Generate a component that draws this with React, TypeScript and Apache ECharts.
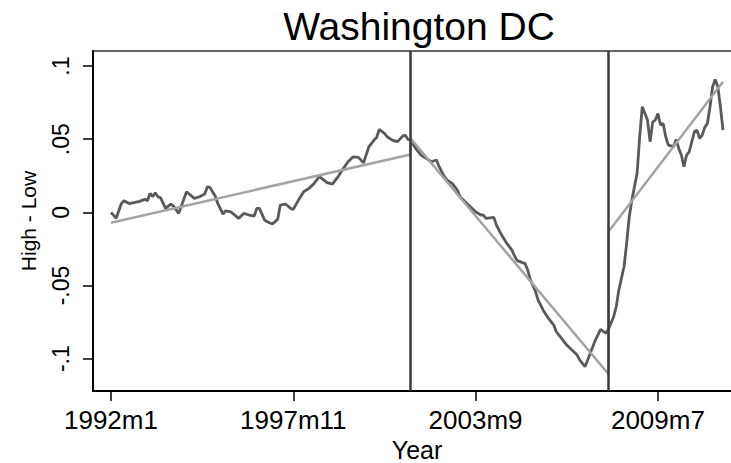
import React, { useEffect, useRef } from "react";
import * as echarts from "echarts";

// Month index: 0 = 1992m1
const actualMonths = [
  0, 2, 4, 5, 7, 11, 13, 14, 15, 16, 17, 18, 19, 21, 23, 24, 26, 29, 32, 34, 36, 37, 38, 40, 41, 43, 44, 46, 49, 51, 53, 55, 56, 57, 59, 60, 62, 64, 65, 67, 69, 70, 72, 74, 76, 78, 80, 83, 85, 87, 89, 91, 93, 95, 97, 99, 101, 102, 103, 105, 106, 108, 110, 112, 113, 114, 115,
  117, 119, 121, 123, 125, 126, 128, 129, 131, 133, 134, 136, 138, 140, 142, 143, 144, 147, 148, 150, 152, 154, 155, 156, 159, 160, 161, 163, 164, 166, 168, 170, 171, 173, 175, 177, 179, 180, 182, 184, 186, 188, 190, 191,
  193, 194, 195, 197, 198, 199, 200, 202, 203, 204, 206, 207, 208, 209, 210, 211, 212, 213, 214, 216, 217, 218, 219, 220, 221, 222, 224, 225, 226, 227, 228, 229, 230, 231, 232, 233, 234, 235,
];
const actualValues = [
  0.0, -0.004, 0.006, 0.008, 0.006, 0.0075, 0.009, 0.008, 0.013, 0.0107, 0.0134, 0.0107, 0.010, 0.0027, 0.0057, 0.0043, -0.0007, 0.0141, 0.0096, 0.0107, 0.0125, 0.0175, 0.0171, 0.0112, 0.0061, -0.0012, 0.0011, 0.0004, -0.0041, -0.0007, -0.0018, -0.0025, 0.0027, 0.0027, -0.0053, -0.0064, -0.008, -0.0048, 0.005, 0.0057, 0.0027, 0.002, 0.0084, 0.0141, 0.0164, 0.0198, 0.0244, 0.0203, 0.0193, 0.0239, 0.0294, 0.0346, 0.038, 0.0376, 0.0339, 0.0448, 0.0494, 0.0512, 0.0567, 0.054, 0.0517, 0.0494, 0.0483, 0.0521, 0.0528, 0.0499, 0.0494,
  0.0437, 0.0392, 0.0369, 0.0346, 0.0358, 0.0312, 0.0244, 0.0221, 0.0198, 0.0152, 0.0107, 0.0073, 0.0039, 0.0004, -0.0018, -0.0018, -0.0041, -0.0034, -0.0087, -0.0155, -0.0212, -0.026, -0.030, -0.033, -0.035, -0.0394, -0.046, -0.054, -0.060, -0.067, -0.0725, -0.077, -0.0816, -0.0862, -0.0907, -0.0941, -0.0975, -0.101, -0.1055, -0.0964, -0.0873, -0.080, -0.0825, -0.080,
  -0.0713, -0.0645, -0.0531, -0.037, -0.021, -0.003, 0.0084, 0.0267, 0.0517, 0.0722, 0.0631, 0.0483, 0.0619, 0.0631, 0.0676, 0.0597, 0.0608, 0.0517, 0.046, 0.0449, 0.0499, 0.0437, 0.0392, 0.0312, 0.0392, 0.0414, 0.0551, 0.0562, 0.0506, 0.0528, 0.0581, 0.0608, 0.0722, 0.0859, 0.0909, 0.0859, 0.0722, 0.0562,
];

const fittedMonths = [0, 115, 115, 191, 191, 235];
const fittedValues = [-0.0071, 0.0396, 0.0506, -0.1105, -0.0133, 0.0893];

const breakMonths = [115, 191];

const xTickValues = [0, 70, 140, 210];
const xTickLabels = ["1992m1", "1997m11", "2003m9", "2009m7"];
const yTickValues = [-0.1, -0.05, 0, 0.05, 0.1];
const yTickLabels = ["-.1", "-.05", "0", ".05", ".1"];

const FONT = "'Liberation Sans', Arial, Helvetica, sans-serif";

export default function App() {
  const ref = useRef<HTMLDivElement>(null);

  useEffect(() => {
    if (!ref.current) return;
    const chart = echarts.init(ref.current, undefined, { renderer: "svg" });
    const actual = actualMonths.map((m, i) => [m, actualValues[i]]);
    const fitted = fittedMonths.map((m, i) => [m, fittedValues[i]]);

    chart.setOption({
      animation: false,
      backgroundColor: "#ffffff",
      textStyle: { fontFamily: FONT },
      graphic: [
        {
          type: "text",
          x: 419,
          y: 26,
          style: {
            text: "Washington DC",
            fontSize: 39,
            fontFamily: FONT,
            fill: "#000",
            textAlign: "center",
            textVerticalAlign: "middle",
          },
        },
      ],
      grid: {
        left: 93,
        top: 51,
        width: 648,
        height: 340,
        show: true,
        borderColor: "#333",
        borderWidth: 1.5,
        backgroundColor: "#fff",
        containLabel: false,
        outerBoundsMode: "none",
      },
      xAxis: {
        type: "value",
        min: -6.9,
        max: 241.9,
        name: "Year",
        nameLocation: "middle",
        nameGap: 37,
        nameTextStyle: { fontSize: 25, color: "#000", fontFamily: FONT },
        axisLine: { show: true, onZero: false, lineStyle: { color: "#000", width: 2 } },
        axisTick: {
          show: true,
          customValues: xTickValues,
          length: 10,
          lineStyle: { color: "#000", width: 1.5 },
        },
        axisLabel: {
          show: true,
          customValues: xTickValues,
          fontSize: 26,
          color: "#000",
          fontFamily: FONT,
          margin: 16,
          formatter: (v: number) => {
            const i = xTickValues.indexOf(Math.round(v));
            return i >= 0 ? xTickLabels[i] : "";
          },
        },
        splitLine: { show: false },
      },
      yAxis: {
        type: "value",
        min: -0.1221,
        max: 0.1103,
        name: "High - Low",
        nameLocation: "middle",
        nameRotate: 90,
        nameGap: 54,
        nameTextStyle: { fontSize: 21, color: "#000", fontFamily: FONT },
        axisLine: { show: true, onZero: false, lineStyle: { color: "#000", width: 2 } },
        axisTick: {
          show: true,
          customValues: yTickValues,
          length: 10,
          lineStyle: { color: "#000", width: 1.5 },
        },
        axisLabel: {
          show: true,
          customValues: yTickValues,
          rotate: 90,
          fontSize: 23,
          color: "#000",
          fontFamily: FONT,
          margin: 21,
          formatter: (v: number) => {
            const i = yTickValues.findIndex((t) => Math.abs(t - v) < 1e-6);
            return i >= 0 ? yTickLabels[i] : "";
          },
        },
        splitLine: { show: false },
      },
      series: [
        {
          name: "High - Low",
          type: "line",
          data: actual,
          showSymbol: false,
          symbol: "none",
          lineStyle: { color: "#595959", width: 2.8 },
          z: 3,
          markLine: {
            silent: true,
            symbol: "none",
            label: { show: false },
            lineStyle: { color: "#3a3a3a", width: 2.5, type: "solid" },
            data: breakMonths.map((m) => ({ xAxis: m })),
          },
        },
        {
          name: "Fitted",
          type: "line",
          data: fitted,
          showSymbol: false,
          symbol: "none",
          lineStyle: { color: "#a3a3a3", width: 2.5 },
          z: 4,
        },
      ],
    });

    return () => chart.dispose();
  }, []);

  return <div ref={ref} style={{ width: 731, height: 463, position: "absolute", left: 0, top: 0 }} />;
}
